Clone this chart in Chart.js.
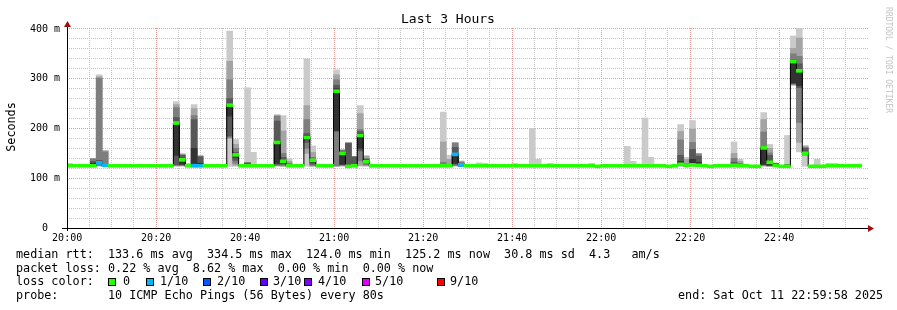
<!DOCTYPE html>
<html>
<head>
<meta charset="utf-8">
<title>Last 3 Hours</title>
<script src="https://cdn.jsdelivr.net/npm/chart.js@4.4.1/dist/chart.umd.min.js"></script>
<style>
    html, body { margin: 0; padding: 0; background: #fff; }
    #wrap { position: relative; width: 897px; height: 310px; overflow: hidden; background: #fff;
            font-family: 'DejaVu Sans Mono', monospace; color: #000; }
    #chart { position: absolute; left: 0; top: 0; }
    .txt { position: absolute; white-space: pre; font-size: 11.75px; line-height: 14px; }
    .title { position: absolute; left: 348px; width: 200px; top: 11px; text-align: center;
             font-size: 13px; line-height: 16px; white-space: pre; }
    .ytitle { position: absolute; width: 100px; left: -39px; top: 120px; text-align: center;
              font-size: 11.75px; line-height: 14px; transform: rotate(-90deg); }
    .mark { position: absolute; width: 140px; left: 818px; top: 55px; text-align: center;
            font-size: 8px; line-height: 10px; color: #c4c4c4; transform: rotate(90deg); white-space: pre; }
    .sq { position: absolute; width: 8px; height: 8px; box-sizing: border-box; border: 1px solid #000; top: 278px; }
</style>
</head>
<body>
<div id="wrap">
    <canvas id="chart" width="897" height="310"></canvas>
    <div class="title">Last 3 Hours</div>
    <div class="ytitle">Seconds</div>
    <div class="mark">RRDTOOL / TOBI OETIKER</div>
    <div class="txt" style="left:16px;top:246.6px">median rtt:  133.6 ms avg  334.5 ms max  124.0 ms min  125.2 ms now  30.8 ms sd  4.3   am/s</div>
    <div class="txt" style="left:16px;top:260.5px">packet loss: 0.22 % avg  8.62 % max  0.00 % min  0.00 % now</div>
    <div class="txt" style="left:16px;top:274.4px">loss color:</div>
    <div id="losslegend"></div>
    <div class="txt" style="left:16px;top:288.3px">probe:       10 ICMP Echo Pings (56 Bytes) every 80s</div>
    <div class="txt" style="left:678px;top:288.3px">end: Sat Oct 11 22:59:58 2025</div>
</div>
<script>
// probe timing, seconds relative to 20:00
const sampleStep = 80;
const firstSampleStart = -8;

// median rtt per probe round (ms)
const medianRtt = [
    125, 125, 125, 125, 125, 131, 126, 125, 125, 125,
    125, 125, 125, 125, 125, 125, 125, 125, 211, 137,
    125, 125, 125, 125, 125, 125, 125, 247, 147, 125,
    125, 125, 125, 125, 125, 172, 134, 125, 125, 125,
    182, 136, 125, 125, 125, 275, 150, 124, 125, 186,
    133, 125, 125, 125, 125, 125, 125, 125, 125, 125,
    125, 125, 125, 125, 125, 148, 127, 125, 125, 125,
    125, 125, 125, 125, 125, 125, 125, 125, 125, 125,
    125, 125, 125, 125, 125, 125, 125, 125, 125, 124,
    125, 125, 125, 125, 125, 125, 125, 125, 125, 125,
    125, 124, 125, 128, 126, 127, 126, 125, 124, 125,
    125, 125, 126, 125, 125, 124, 124, 161, 132, 126,
    124, 124, 334.5, 316, 150, 124, 124, 124, 125, 125,
    125, 125, 125, 125.2
];

// lost pings out of 10 per round
const lossCount = [
    0, 0, 0, 0, 0, 1, 1, 0, 0, 0,  0, 0, 0, 0, 0, 0, 0, 0, 0, 0,
    0, 1, 1, 0, 0, 0, 0, 0, 0, 0,  0, 0, 0, 0, 0, 0, 0, 0, 0, 0,
    0, 0, 0, 0, 0, 0, 0, 0, 0, 0,  0, 0, 0, 0, 0, 0, 0, 0, 0, 0,
    0, 0, 0, 0, 0, 1, 1, 0, 0, 0,  0, 0, 0, 0, 0, 0, 0, 0, 0, 0,
    0, 0, 0, 0, 0, 0, 0, 0, 0, 0,  0, 0, 0, 0, 0, 0, 0, 0, 0, 0,
    0, 0, 0, 0, 0, 0, 0, 0, 0, 0,  0, 0, 0, 0, 0, 0, 0, 0, 0, 0,
    0, 0, 0, 0, 0, 0, 0, 0, 0, 0,  0, 0, 0, 0
];

// rounds with visible smoke and their sorted ping times (ms)
const smokeSamples = [
    0, 4, 5, 6, 18, 19, 20, 21, 22, 27, 28, 30, 31, 35, 36, 37, 40, 41, 45, 46,
    47, 48, 49, 50, 63, 64, 65, 66, 69, 70, 75, 78, 79, 81, 88, 94, 95, 97, 98, 103,
    104, 105, 106, 112, 113, 117, 118, 119, 121, 122, 123, 124, 126, 128, 129
];
const smokePings = [
    [124,124,124,124,125,125,125,126,127,130],
    [124,124,124,126,128,130,134,139,140,140],
    [124,125,126,128,130,134,136,301,304,308],
    [124,124,125,125,126,127,128,153,155,156],
    [124,125,126,127,146,212,222,242,248,254],
    [124,125,126,127,128,137,146,147,148,150],
    [124,124,124,124,124,125,125,126,128,130],
    [124,125,126,128,130,160,218,226,240,248],
    [124,124,125,126,127,130,143,144,145,146],
    [124,180,182,185,225,250,260,298,335,396],
    [124,126,130,136,142,148,152,160,168,178],
    [124,124,125,126,127,128,130,132,132,282],
    [124,124,124,124,124,125,125,126,127,152],
    [124,125,126,128,130,175,215,225,226,228],
    [124,124,126,128,130,136,142,150,195,226],
    [124,124,124,125,126,127,128,130,134,140],
    [124,150,160,172,178,186,190,218,246,340],
    [124,124,126,128,132,136,138,142,152,165],
    [124,124,125,194,196,280,287,298,308,318],
    [124,125,126,127,128,150,155,155,157,158],
    [124,124,125,126,127,127,170,171,171,172],
    [124,124,125,126,127,127,143,143,143,143],
    [124,126,135,155,160,190,194,198,230,246],
    [124,125,127,129,132,135,138,140,144,146],
    [124,124,125,126,126,127,128,132,173,233],
    [124,124,124,124,125,125,126,128,138,146],
    [124,125,126,128,130,150,162,171,171,171],
    [124,124,124,125,126,128,130,132,134,135],
    [124,124,124,124,124,125,125,125,126,131],
    [124,124,124,124,124,125,125,125,126,130],
    [124,124,124,124,124,125,125,125,126,130],
    [124,124,124,124,124,125,125,125,126,200],
    [124,124,124,124,124,125,125,125,126,138],
    [124,124,124,124,124,125,125,125,126,130],
    [124,124,124,124,124,125,125,125,126,130],
    [124,124,124,124,124,125,125,125,126,164],
    [124,124,124,124,124,125,125,125,126,134],
    [124,124,124,124,124,125,125,125,126,221],
    [124,124,124,124,124,125,125,125,126,142],
    [124,125,126,127,128,134,146,177,194,208],
    [124,124,124,124,125,126,128,130,138,142],
    [124,125,126,127,128,138,158,172,199,216],
    [124,124,125,126,128,132,144,148,150,150],
    [124,124,125,126,127,128,132,140,150,173],
    [124,124,124,124,125,126,128,130,134,138],
    [124,125,126,127,128,160,163,193,218,232],
    [124,124,125,126,126,132,146,151,160,168],
    [124,124,124,125,125,130,130,130,130,131],
    [124,124,124,125,126,126,127,128,128,186],
    [286,288,289,290,292,336,338,350,361,386],
    [153,172,212,282,286,318,330,345,382,402],
    [124,146,147,148,149,152,160,162,164,166],
    [124,124,124,124,124,124,125,125,126,138],
    [124,124,124,124,124,125,125,125,126,130],
    [124,124,124,124,124,125,125,125,126,130]
];

// axis labels
const timeLabels = ['20:00', '20:20', '20:40', '21:00', '21:20', '21:40', '22:00', '22:20', '22:40'];
const yLabelValues = [0, 100, 200, 300, 400];
const yLabelTexts = ['0  ', '100 m', '200 m', '300 m', '400 m'];

// loss colour legend
const lossLevels = [0, 1, 2, 3, 4, 5, 9];
const lossNames = ['0', '1/10', '2/10', '3/10', '4/10', '5/10', '9/10'];
const lossColors = ['#26ff00', '#00b8ff', '#0059ff', '#5e00ff', '#7e00ff', '#dd00ff', '#ff0000'];

// look
const smokeGreys = ['#cacaca', '#a4a4a4', '#7e7e7e', '#585858', '#323232'];
const legendSquareX = [108, 146, 203, 260, 304, 362, 437];
const legendTextX = [123, 160, 217, 273, 318, 375, 450];

function sampleCenter(i){
    return firstSampleStart + i * sampleStep + sampleStep / 2;
}

function lossColor(n){
    let idx = 0;
    lossLevels.forEach(function(lvl, i){
        if(n >= lvl){
            idx = i;
        }
    });
    return lossColors[idx];
}

// legend squares
(function(){
    const holder = document.getElementById('losslegend');
    lossNames.forEach(function(name, i){
        const sq = document.createElement('div');
        sq.className = 'sq';
        sq.style.left = legendSquareX[i] + 'px';
        sq.style.background = lossColors[i];
        holder.appendChild(sq);
        const t = document.createElement('div');
        t.className = 'txt';
        t.style.left = legendTextX[i] + 'px';
        t.style.top = '274.4px';
        t.textContent = name;
        holder.appendChild(t);
    });
})();

const datasets = [];

// median markers coloured by loss
datasets.push({
    type: 'bar',
    data: medianRtt.map(function(m, i){
        return {x: sampleCenter(i), y: [m - 3, m + 3]};
    }),
    backgroundColor: medianRtt.map(function(m, i){
        return lossColor(lossCount[i]);
    }),
    borderWidth: 0,
    grouped: false,
    barPercentage: 1,
    categoryPercentage: 1,
    order: 0
});

// black step line joining the medians
datasets.push({
    type: 'line',
    data: medianRtt.map(function(m, i){
        return {x: sampleCenter(i), y: m};
    }),
    stepped: 'middle',
    borderColor: '#000',
    borderWidth: 1,
    pointRadius: 0,
    fill: false,
    order: 1
});

// smoke, outer band first
smokeGreys.forEach(function(grey, k){
    datasets.push({
        type: 'bar',
        data: smokeSamples.map(function(s, j){
            const p = smokePings[j];
            return {x: sampleCenter(s), y: [p[k], p[9 - k]]};
        }),
        backgroundColor: grey,
        borderWidth: 0,
        grouped: false,
        barPercentage: 1,
        categoryPercentage: 1,
        order: 6 - k
    });
});

const xTickValues = [];
for(let v = 0; v <= 10500; v += 300){
    xTickValues.push(v);
}
const yTickValues = [];
for(let v = 0; v <= 400; v += 20){
    yTickValues.push(v);
}

const axisArrows = {
    id: 'axisArrows',
    afterDraw: function(chart){
        const ctx = chart.ctx;
        const a = chart.chartArea;
        ctx.save();
        ctx.strokeStyle = '#000';
        ctx.lineWidth = 1;
        ctx.beginPath();
        ctx.moveTo(a.left - 5, a.bottom + 0.5);
        ctx.lineTo(a.right + 1, a.bottom + 0.5);
        ctx.moveTo(a.left + 0.5, a.bottom + 3);
        ctx.lineTo(a.left + 0.5, a.top - 3);
        ctx.stroke();
        ctx.fillStyle = '#a01010';
        ctx.beginPath();
        ctx.moveTo(a.left + 0.5, a.top - 7);
        ctx.lineTo(a.left - 3, a.top - 1);
        ctx.lineTo(a.left + 4, a.top - 1);
        ctx.closePath();
        ctx.fill();
        ctx.beginPath();
        ctx.moveTo(a.right + 6, a.bottom + 0.5);
        ctx.lineTo(a.right, a.bottom - 3);
        ctx.lineTo(a.right, a.bottom + 4);
        ctx.closePath();
        ctx.fill();
        ctx.restore();
    }
};

new Chart(document.getElementById('chart'), {
    type: 'bar',
    data: {datasets: datasets},
    plugins: [axisArrows],
    options: {
        responsive: false,
        devicePixelRatio: 1,
        animation: false,
        layout: {padding: {left: 0, top: 28, right: 29, bottom: 0}},
        plugins: {
            legend: {display: false},
            title: {display: false},
            tooltip: {enabled: false}
        },
        scales: {
            x: {
                type: 'linear',
                min: -2,
                max: 10798,
                offset: false,
                afterFit: function(scale){
                    scale.height = 82;
                },
                afterBuildTicks: function(scale){
                    scale.ticks = xTickValues.map(function(v){ return {value: v}; });
                },
                grid: {
                    offset: false,
                    drawTicks: false,
                    color: function(c){
                        return (c.tick && c.tick.value % 1200 === 0) ? '#e89a9a' : '#c4c4c4';
                    }
                },
                border: {display: false, dash: [1, 1]},
                ticks: {
                    autoSkip: false,
                    maxRotation: 0,
                    padding: 4,
                    color: '#000',
                    font: {family: 'DejaVu Sans Mono', size: 10},
                    callback: function(v){
                        if(v % 1200 === 0){
                            return timeLabels[v / 1200] || '';
                        }
                        return '';
                    }
                }
            },
            y: {
                type: 'linear',
                min: 0,
                max: 402,
                afterFit: function(scale){
                    scale.width = 67;
                },
                afterBuildTicks: function(scale){
                    scale.ticks = yTickValues.map(function(v){ return {value: v}; });
                },
                grid: {
                    drawTicks: false,
                    color: function(c){
                        return (c.tick && c.tick.value % 100 === 0) ? '#e89a9a' : '#c4c4c4';
                    }
                },
                border: {display: false, dash: [1, 1]},
                ticks: {
                    autoSkip: false,
                    padding: 7,
                    color: '#000',
                    font: {family: 'DejaVu Sans Mono', size: 10},
                    callback: function(v){
                        const i = yLabelValues.indexOf(v);
                        return i >= 0 ? yLabelTexts[i] : '';
                    }
                }
            }
        }
    }
});
</script>
</body>
</html>
